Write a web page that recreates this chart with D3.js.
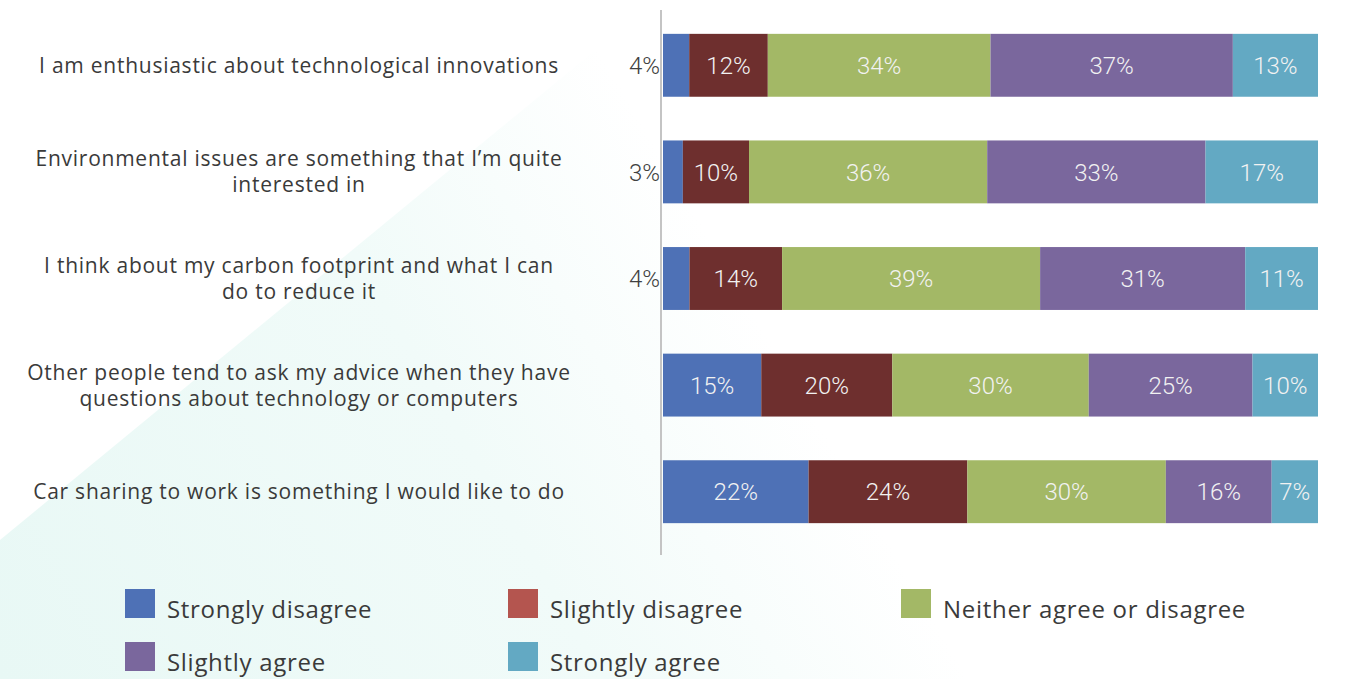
<!DOCTYPE html>
<html>
<head>
<meta charset="utf-8">
<script src="https://cdn.jsdelivr.net/npm/d3@7"></script>
<style>
  html, body { margin: 0; padding: 0; background: #ffffff; }
  svg { display: block; }
  text { font-family: "Open Sans", Roboto, "Liberation Sans", sans-serif; }
  .val { font-family: Roboto, "Open Sans", sans-serif; }
</style>
</head>
<body>
<svg id="chart" width="1352" height="679"></svg>
<script>
// Survey statements, top to bottom (line breaks as displayed)
const statements = [
  ["I am enthusiastic about technological innovations"],
  ["Environmental issues are something that I\u2019m quite", "interested in"],
  ["I think about my carbon footprint and what I can", "do to reduce it"],
  ["Other people tend to ask my advice when they have", "questions about technology or computers"],
  ["Car sharing to work is something I would like to do"]
];

// Response categories
const responses = ["Strongly disagree", "Slightly disagree", "Neither agree or disagree", "Slightly agree", "Strongly agree"];

// Share of respondents (%) per statement
const stronglyDisagree = [4, 3, 4, 15, 22];
const slightlyDisagree = [12, 10, 14, 20, 24];
const neither          = [34, 36, 39, 30, 30];
const slightlyAgree    = [37, 33, 31, 25, 16];
const stronglyAgree    = [13, 17, 11, 10, 7];

const barColors    = ["#4E71B6", "#6E2F2E", "#A3B866", "#7A679D", "#63A9C3"];
const legendColors = ["#4E71B6", "#B4554F", "#A3B866", "#7A679D", "#63A9C3"];

const rows = statements.map((s, i) => ({
  key: i,
  "Strongly disagree": stronglyDisagree[i],
  "Slightly disagree": slightlyDisagree[i],
  "Neither agree or disagree": neither[i],
  "Slightly agree": slightlyAgree[i],
  "Strongly agree": stronglyAgree[i]
}));

const svg = d3.select("#chart");

// faint teal wash rising from the lower-left corner
const defs = svg.append("defs");
const grad = defs.append("linearGradient").attr("id", "bgGrad")
  .attr("gradientUnits", "userSpaceOnUse")
  .attr("x1", 0).attr("y1", 679).attr("x2", 900).attr("y2", 150);
grad.append("stop").attr("offset", "0").attr("stop-color", "#E8F8F5");
grad.append("stop").attr("offset", "0.5").attr("stop-color", "#F1FBF9");
grad.append("stop").attr("offset", "0.8").attr("stop-color", "#FFFFFF");
svg.append("path")
  .attr("d", "M0,540 L650,5 L1352,5 L1352,679 L0,679 Z")
  .attr("fill", "url(#bgGrad)");

const x = d3.scaleLinear().domain([0, 1]).range([663, 1318]);
const y = d3.scaleBand().domain(d3.range(statements.length))
  .range([12, 545]).paddingInner(0.41).paddingOuter(0.205);

const stack = d3.stack().keys(responses).offset(d3.stackOffsetExpand);
const series = stack(rows);

// bars
const layers = svg.append("g").selectAll("g").data(series).join("g")
  .attr("fill", (d, i) => barColors[i]);

layers.selectAll("rect").data(d => d).join("rect")
  .attr("x", d => x(d[0]))
  .attr("y", (d, i) => y(i))
  .attr("width", d => x(d[1]) - x(d[0]))
  .attr("height", y.bandwidth());

// value labels: inside when there is room, otherwise left of the axis
series.forEach((s) => {
  s.forEach((d, i) => {
    const v = d.data[s.key];
    const w = x(d[1]) - x(d[0]);
    const inside = w > 32;
    svg.append("text")
      .attr("class", "val")
      .attr("x", inside ? (x(d[0]) + x(d[1])) / 2 : x(0) - 3)
      .attr("y", y(i) + y.bandwidth() / 2)
      .attr("dy", "0.36em")
      .attr("text-anchor", inside ? "middle" : "end")
      .attr("font-size", 24)
      .attr("font-weight", 300)
      .attr("fill", inside ? "#F2F2F2" : "#404040")
      .text(v + "%");
  });
});

// vertical axis line
svg.append("line")
  .attr("x1", 661).attr("x2", 661)
  .attr("y1", 10).attr("y2", 555)
  .attr("stroke", "#C4C4C4").attr("stroke-width", 2);

// statement labels
statements.forEach((lines, i) => {
  const cy = y(i) + y.bandwidth() / 2;
  const lh = 26;
  lines.forEach((ln, j) => {
    svg.append("text")
      .attr("x", 299)
      .attr("y", cy + (j - (lines.length - 1) / 2) * lh)
      .attr("dy", "0.36em")
      .attr("text-anchor", "middle")
      .attr("font-size", 21)
      .attr("letter-spacing", 0.75)
      .attr("fill", "#3A3A3A")
      .text(ln);
  });
});

// legend
const legendPos = [[125, 589], [508, 589], [901, 589], [125, 642], [508, 642]];
responses.forEach((r, i) => {
  const [lx, ly] = legendPos[i];
  const g = svg.append("g").attr("transform", `translate(${lx},${ly})`);
  g.append("rect").attr("width", 30).attr("height", 29).attr("fill", legendColors[i]);
  g.append("text").attr("x", 42).attr("y", 29)
    .attr("font-size", 24)
    .attr("letter-spacing", 0.7)
    .attr("fill", "#3A3A3A").text(r);
});
</script>
</body>
</html>
